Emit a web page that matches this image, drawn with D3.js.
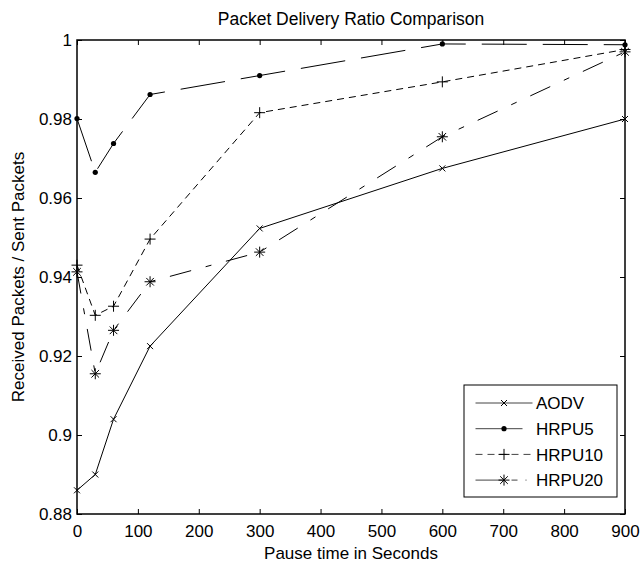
<!DOCTYPE html>
<html>
<head>
<meta charset="utf-8">
<script src="https://cdn.jsdelivr.net/npm/d3@7"></script>
<style>
  body { margin: 0; background: #fff; }
  text { font-family: "Liberation Sans", Arial, sans-serif; fill: #000; }
</style>
</head>
<body>
<svg id="chart" width="640" height="563"></svg>
<script>
// data
var pauseTimes = [0, 30, 60, 120, 300, 600, 900];
var aodv   = [0.886, 0.890, 0.904, 0.9225, 0.9523, 0.9675, 0.980];
var hrpu5  = [0.9801, 0.9665, 0.9738, 0.9862, 0.991, 0.999, 0.9988];
var hrpu10 = [0.943, 0.9303, 0.9326, 0.9496, 0.9816, 0.9894, 0.9976];
var hrpu20 = [0.9413, 0.9155, 0.9265, 0.9388, 0.9463, 0.9755, 0.997];
var seriesNames = ['AODV', 'HRPU5', 'HRPU10', 'HRPU20'];
var xTicks = [0, 100, 200, 300, 400, 500, 600, 700, 800, 900];
var yTicks = [0.88, 0.9, 0.92, 0.94, 0.96, 0.98, 1];

var series = [
    {name: seriesNames[0], values: aodv,   dash: null,         legendDash: null,                 marker: 'x'},
    {name: seriesNames[1], values: hrpu5,  dash: '45,16',      legendDash: '47,11,1,100',        marker: 'dot'},
    {name: seriesNames[2], values: hrpu10, dash: '7,5',        legendDash: '7,5',                marker: 'plus'},
    {name: seriesNames[3], values: hrpu20, dash: '22,15,6,15', legendDash: '28,8,6,8,1,100',     marker: 'star'}
];

var svg = d3.select('#chart');
var plot = {l: 77, r: 625, t: 40, b: 514};

var xScale = d3.scaleLinear().domain([0, 900]).range([plot.l, plot.r]);
var yScale = d3.scaleLinear().domain([0.88, 1]).range([plot.b, plot.t]);

// axes, MATLAB style inward ticks on all sides
var fmtY = function(d){ return String(+d.toFixed(2)); };

svg.append('g')
    .attr('transform', 'translate(0,' + plot.b + ')')
    .call(d3.axisBottom(xScale).tickValues(xTicks).tickSizeInner(-5).tickSizeOuter(0).tickPadding(11))
    .call(function(g){ g.select('.domain').remove(); });

svg.append('g')
    .attr('transform', 'translate(0,' + plot.t + ')')
    .call(d3.axisTop(xScale).tickValues(xTicks).tickSizeInner(-5).tickSizeOuter(0).tickFormat(''))
    .call(function(g){ g.select('.domain').remove(); });

svg.append('g')
    .attr('transform', 'translate(' + plot.l + ',0)')
    .call(d3.axisLeft(yScale).tickValues(yTicks).tickFormat(fmtY).tickSizeInner(-5).tickSizeOuter(0).tickPadding(5))
    .call(function(g){ g.select('.domain').remove(); });

svg.append('g')
    .attr('transform', 'translate(' + plot.r + ',0)')
    .call(d3.axisRight(yScale).tickValues(yTicks).tickSizeInner(-5).tickSizeOuter(0).tickFormat(''))
    .call(function(g){ g.select('.domain').remove(); });

svg.selectAll('.tick text').style('font-size', '17px').style('font-family', '"Liberation Sans", Arial, sans-serif');
svg.selectAll('.tick line').attr('stroke', '#000');

svg.append('rect')
    .attr('x', plot.l).attr('y', plot.t)
    .attr('width', plot.r - plot.l).attr('height', plot.b - plot.t)
    .attr('fill', 'none').attr('stroke', '#000').attr('stroke-width', 1.5);

// markers
function drawMarker(g, type, cx, cy) {
    var s;
    if (type === 'dot') {
        g.append('circle').attr('cx', cx).attr('cy', cy).attr('r', 2.6).attr('fill', '#000');
        return;
    }
    var p = d3.path();
    if (type === 'x' || type === 'star') {
        s = type === 'x' ? 3 : 3.8;
        p.moveTo(cx - s, cy - s); p.lineTo(cx + s, cy + s);
        p.moveTo(cx - s, cy + s); p.lineTo(cx + s, cy - s);
    }
    if (type === 'plus' || type === 'star') {
        s = 5.5;
        p.moveTo(cx - s, cy); p.lineTo(cx + s, cy);
        p.moveTo(cx, cy - s); p.lineTo(cx, cy + s);
    }
    g.append('path').attr('d', p.toString()).attr('fill', 'none').attr('stroke', '#000').attr('stroke-width', 1);
}

var line = d3.line()
    .x(function(d){ return xScale(d.x); })
    .y(function(d){ return yScale(d.y); });

series.forEach(function(s){
    var pts = pauseTimes.map(function(t, i){ return {x: t, y: s.values[i]}; });
    var g = svg.append('g');
    g.append('path')
        .attr('d', line(pts))
        .attr('fill', 'none')
        .attr('stroke', '#000')
        .attr('stroke-width', 1)
        .attr('stroke-dasharray', s.dash);
    pts.forEach(function(d){
        drawMarker(g, s.marker, xScale(d.x), yScale(d.y));
    });
});

// labels
svg.append('text')
    .attr('x', (plot.l + plot.r) / 2).attr('y', 25)
    .attr('text-anchor', 'middle')
    .style('font-size', '17.5px')
    .text('Packet Delivery Ratio Comparison');

svg.append('text')
    .attr('x', (plot.l + plot.r) / 2).attr('y', 559)
    .attr('text-anchor', 'middle')
    .style('font-size', '17px')
    .text('Pause time in Seconds');

svg.append('text')
    .attr('transform', 'translate(24,' + ((plot.t + plot.b) / 2) + ') rotate(-90)')
    .attr('text-anchor', 'middle')
    .style('font-size', '17px')
    .text('Received Packets / Sent Packets');

// legend
var legend = svg.append('g').attr('transform', 'translate(464,385)');
legend.append('rect')
    .attr('width', 153).attr('height', 112)
    .attr('fill', '#fff').attr('stroke', '#000').attr('stroke-width', 1);

series.forEach(function(s, i){
    var y = 18 + i * 25.7;
    var row = legend.append('g');
    row.append('line')
        .attr('x1', 11.5).attr('x2', 68.5).attr('y1', y).attr('y2', y)
        .attr('stroke', '#444').attr('stroke-width', 1)
        .attr('stroke-dasharray', s.legendDash);
    drawMarker(row, s.marker, 40, y);
    row.append('text')
        .attr('x', 72).attr('y', y).attr('dy', '0.36em')
        .style('font-size', '17px')
        .text(s.name);
});
</script>
</body>
</html>
